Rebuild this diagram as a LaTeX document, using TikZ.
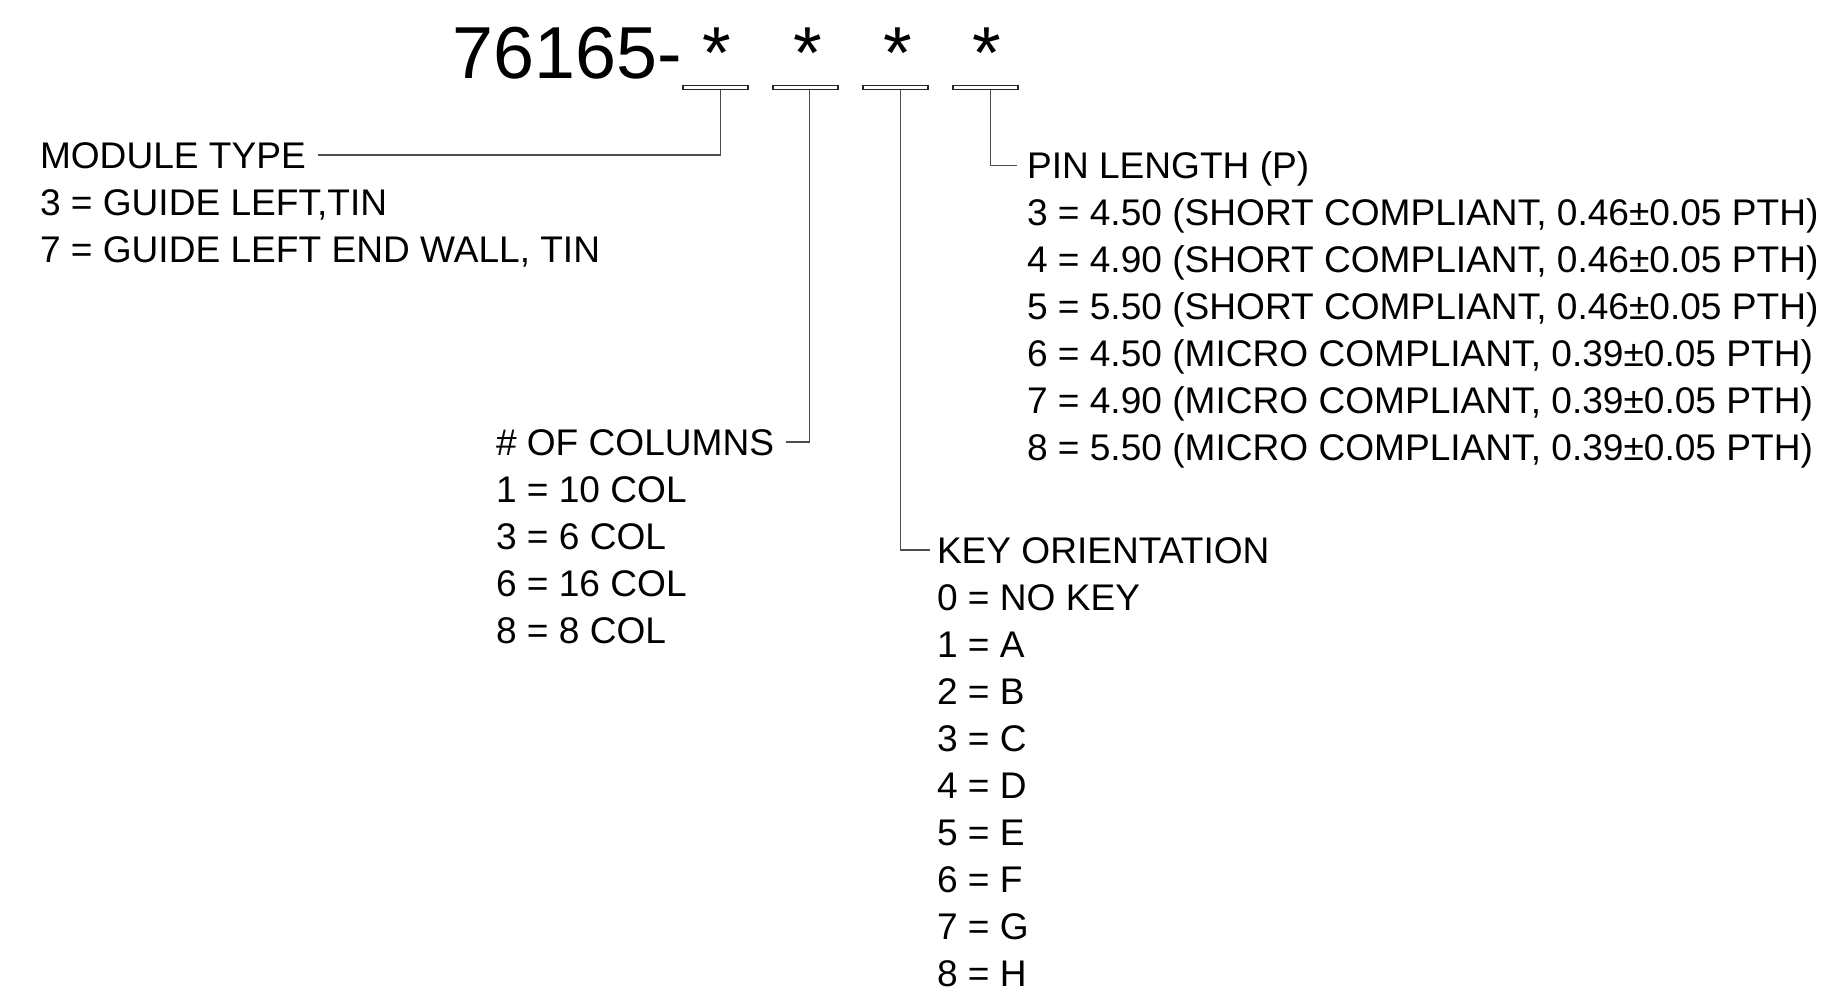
\documentclass[tikz,border=0pt]{standalone}
\usepackage{fontspec}
\setmainfont{Liberation Sans}
\usetikzlibrary{positioning}
\tikzset{
  partno/.style={font=\fontsize{20.95}{24}\selectfont, inner sep=0pt, anchor=base},
  slot/.style={draw=black!85, line width=0.4pt, minimum width=0.65cm,
    minimum height=0.035cm, inner sep=0pt},
  heading/.style={font=\fontsize{10.55}{12}\selectfont, inner sep=0pt, outer sep=0pt,
    text height=0.33cm, text depth=0.07cm, anchor=west},
  entry/.style={heading, below=0.07cm of #1.south west, anchor=north west},
  lead/.style={draw=black!70, line width=0.45pt},
}

\begin{document}
\begin{tikzpicture}
\useasboundingbox (0,0) rectangle (18.28,-9.98);

%%==========================================================================
%% PART NUMBER — prefix, wildcard slots
%%==========================================================================

\node[partno, anchor=base west] (prefix) at (4.52,-0.78) {76165-};

\node[slot] (s1) at (7.155,-0.875) {};
\node[slot] (s2) at (8.055,-0.875) {};
\node[slot] (s3) at (8.955,-0.875) {};
\node[slot] (s4) at (9.855,-0.875) {};

\node[partno] (a1) at (7.17,-0.78) {*};
\node[partno] (a2) at (8.08,-0.78) {*};
\node[partno] (a3) at (8.98,-0.78) {*};
\node[partno] (a4) at (9.87,-0.78) {*};

%%==========================================================================
%% LEGENDS — one per slot
%%==========================================================================

\node[heading] (mtype) at (0.40,-1.55) {MODULE TYPE};
\node[entry=mtype] (m3) {3 = GUIDE LEFT,TIN};
\node[entry=m3] (m7) {7 = GUIDE LEFT END WALL, TIN};

\node[heading] (cols) at (4.96,-4.42) {\# OF COLUMNS};
\node[entry=cols] (c1) {1 = 10 COL};
\node[entry=c1] (c3) {3 = 6 COL};
\node[entry=c3] (c6) {6 = 16 COL};
\node[entry=c6] (c8) {8 = 8 COL};

\node[heading] (key) at (9.37,-5.50) {KEY ORIENTATION};
\node[entry=key] (k0) {0 = NO KEY};
\node[entry=k0] (k1) {1 = A};
\node[entry=k1] (k2) {2 = B};
\node[entry=k2] (k3) {3 = C};
\node[entry=k3] (k4) {4 = D};
\node[entry=k4] (k5) {5 = E};
\node[entry=k5] (k6) {6 = F};
\node[entry=k6] (k7) {7 = G};
\node[entry=k7] (k8) {8 = H};

\node[heading] (pin) at (10.27,-1.655) {PIN LENGTH (P)};
\node[entry=pin] (p3) {3 = 4.50 (SHORT COMPLIANT, 0.46±0.05 PTH)};
\node[entry=p3] (p4) {4 = 4.90 (SHORT COMPLIANT, 0.46±0.05 PTH)};
\node[entry=p4] (p5) {5 = 5.50 (SHORT COMPLIANT, 0.46±0.05 PTH)};
\node[entry=p5] (p6) {6 = 4.50 (MICRO COMPLIANT, 0.39±0.05 PTH)};
\node[entry=p6] (p7) {7 = 4.90 (MICRO COMPLIANT, 0.39±0.05 PTH)};
\node[entry=p7] (p8) {8 = 5.50 (MICRO COMPLIANT, 0.39±0.05 PTH)};

%%==========================================================================
%% LEADERS — slot to legend heading
%%==========================================================================

\draw[lead, shorten >=0.12cm] ([xshift=0.05cm]s1.south) |- (mtype.east);
\draw[lead, shorten >=0.12cm] ([xshift=0.04cm]s2.south) |- (cols.east);
\draw[lead, shorten >=0.07cm] ([xshift=0.05cm]s3.south) |- (key.west);
\draw[lead, shorten >=0.10cm] ([xshift=0.05cm]s4.south) |- (pin.west);

\end{tikzpicture}
\end{document}
